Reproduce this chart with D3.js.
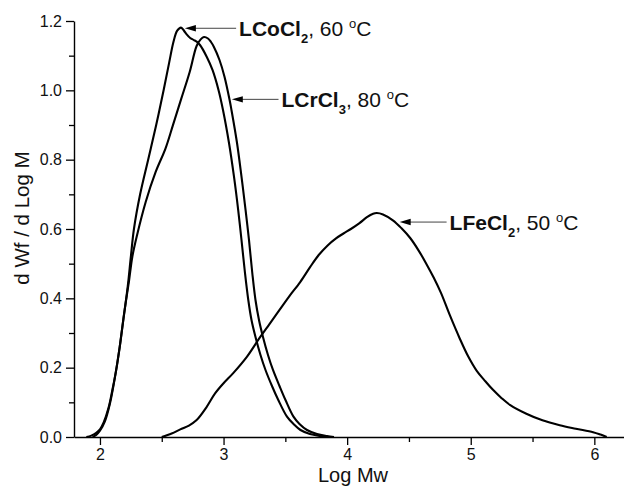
<!DOCTYPE html>
<html><head><meta charset="utf-8">
<script src="https://cdn.jsdelivr.net/npm/d3@7"></script>
<style>
body{margin:0;background:#fff}
svg{display:block;font-family:Arial,"Liberation Sans",Helvetica,sans-serif}
</style>
</head><body>
<svg id="chart" width="624" height="486"></svg>
<script>
// ---- Data (Log Mw, dWf/dLogM) ----
const coX = [1.89,1.93,1.97,2.00,2.03,2.07,2.10,2.13,2.16,2.19,2.225,2.25,2.275,2.325,2.39,2.455,2.515,2.56,2.595,2.625,2.656,2.68,2.70,2.73,2.76,2.7824,2.8094,2.8636,2.9106,2.9591,2.9955,3.0441,3.0845,3.1185,3.1452,3.1735,3.2002,3.2261,3.2585,3.2989,3.3394,3.3919,3.4429,3.5133,3.5659,3.6225,3.6994,3.7803,3.84];
const coY = [0,0.004,0.012,0.022,0.042,0.085,0.135,0.19,0.26,0.34,0.435,0.52,0.60,0.70,0.80,0.90,1.00,1.08,1.14,1.172,1.181,1.172,1.162,1.151,1.145,1.1403,1.1308,1.0970,1.0587,1.0010,0.9433,0.8481,0.7509,0.6548,0.5683,0.4731,0.3952,0.3375,0.2885,0.2365,0.1933,0.1471,0.1067,0.0586,0.0375,0.0202,0.0087,0.0029,0];

const crX = [1.94,1.97,2.00,2.04,2.08,2.12,2.16,2.195,2.235,2.262,2.30,2.37,2.45,2.53,2.59,2.658,2.726,2.782,2.815,2.8418,2.8741,2.8984,2.9211,2.9672,3.0077,3.049,3.064,3.109,3.1452,3.1783,3.2058,3.2325,3.2584,3.2867,3.3191,3.3595,3.40,3.4526,3.5011,3.5659,3.6144,3.6751,3.756,3.8369,3.8935];
const crY = [0,0.006,0.018,0.045,0.095,0.17,0.26,0.355,0.45,0.52,0.582,0.678,0.764,0.832,0.899,0.976,1.053,1.128,1.147,1.1538,1.1495,1.1394,1.1259,1.0875,1.0393,0.9721,0.9433,0.8481,0.7509,0.6548,0.5683,0.4731,0.3952,0.3375,0.2885,0.2365,0.1933,0.1471,0.1067,0.0586,0.0375,0.0202,0.0087,0.0029,0];

const feX = [2.50,2.58,2.65,2.72,2.78,2.86,2.93,3.00,3.08,3.19,3.29,3.37,3.45,3.53,3.62,3.70,3.77,3.84,3.91,3.97,4.03,4.10,4.16,4.21,4.24,4.29,4.37,4.44,4.51,4.58,4.64,4.70,4.76,4.83,4.91,4.98,5.05,5.12,5.18,5.25,5.32,5.45,5.58,5.72,5.85,5.99,6.05,6.10];
const feY = [0,0.01,0.022,0.033,0.048,0.085,0.125,0.155,0.185,0.232,0.285,0.325,0.365,0.405,0.447,0.49,0.525,0.552,0.573,0.587,0.600,0.617,0.634,0.644,0.646,0.642,0.625,0.602,0.574,0.537,0.50,0.46,0.415,0.352,0.285,0.232,0.19,0.16,0.136,0.112,0.092,0.067,0.048,0.034,0.024,0.014,0.007,0];

const xMajorTicks = [2,3,4,5,6];
const xMinorTicks = [2.5,3.5,4.5,5.5];
const yMajorTicks = [0,0.2,0.4,0.6,0.8,1.0,1.2];
const yMinorTicks = [0.1,0.3,0.5,0.7,0.9,1.1];

// annotation: label parts, arrow tip (data), text start (data x)
const labelNames = ["LCoCl", "LCrCl", "LFeCl"];
const labelSubs  = ["2", "3", "2"];
const labelTemps = [", 60 ", ", 80 ", ", 50 "];
const arrowTipX  = [2.687, 3.067, 4.425];
const arrowTipY  = [1.179, 0.974, 0.620];
const labelTextX = [3.126, 3.469, 4.829];

const xTitle = "Log Mw";
const yTitle = "d Wf / d Log M";

// ---- Chart ----
const svg = d3.select("#chart");
const x = d3.scaleLinear().domain([1.79, 6.24]).range([74, 624]);
const y = d3.scaleLinear().domain([0, 1.2]).range([437, 21]);

// axes
svg.append("g").attr("transform", `translate(0,${y(0)})`)
  .call(d3.axisBottom(x).tickValues(xMajorTicks).tickFormat(d3.format("d"))
        .tickSize(8).tickSizeOuter(0).tickPadding(4));
svg.append("g").attr("transform", `translate(0,${y(0)})`)
  .call(d3.axisBottom(x).tickValues(xMinorTicks).tickFormat("").tickSize(5).tickSizeOuter(0))
  .select(".domain").remove();
svg.append("g").attr("transform", `translate(${x(1.79)},0)`)
  .call(d3.axisLeft(y).tickValues(yMajorTicks).tickFormat(d3.format(".1f"))
        .tickSize(8).tickSizeOuter(0).tickPadding(4));
svg.append("g").attr("transform", `translate(${x(1.79)},0)`)
  .call(d3.axisLeft(y).tickValues(yMinorTicks).tickFormat("").tickSize(5).tickSizeOuter(0))
  .select(".domain").remove();

svg.selectAll(".domain").attr("stroke", "#000").attr("stroke-width", 1.4);
svg.selectAll(".tick line").attr("stroke", "#000").attr("stroke-width", 1.3);
svg.selectAll(".tick text").attr("font-size", 16).attr("fill", "#111")
  .attr("font-family", "Arial, 'Liberation Sans', sans-serif");

// titles
svg.append("text").attr("x", 353).attr("y", 481.5).attr("text-anchor", "middle")
  .attr("font-size", 20).attr("fill", "#111").text(xTitle);
svg.append("text").attr("transform", "translate(29,218) rotate(-90)")
  .attr("text-anchor", "middle").attr("font-size", 20.5).attr("fill", "#111").text(yTitle);

// curves
const line = d3.line().x(d => x(d[0])).y(d => y(d[1])).curve(d3.curveCatmullRom.alpha(0.5));
const series = [d3.zip(coX, coY), d3.zip(crX, crY), d3.zip(feX, feY)];
svg.append("g").selectAll("path").data(series).join("path")
  .attr("d", line).attr("fill", "none").attr("stroke", "#000")
  .attr("stroke-width", 2.1).attr("stroke-linejoin", "round");

// annotations
labelNames.forEach((nm, i) => {
  const tx = x(arrowTipX[i]), ty = y(arrowTipY[i]);
  const sx = x(labelTextX[i]);
  svg.append("line").attr("x1", sx - 3).attr("y1", ty).attr("x2", tx + 8).attr("y2", ty)
    .attr("stroke", "#444").attr("stroke-width", 1);
  svg.append("path")
    .attr("d", `M${tx},${ty} L${tx + 11},${ty - 3.2} L${tx + 11},${ty + 3.2} Z`)
    .attr("fill", "#000");
  const t = svg.append("text").attr("x", sx).attr("y", ty + 8)
    .attr("font-size", 21).attr("fill", "#111");
  t.append("tspan").attr("font-weight", "bold").text(nm);
  t.append("tspan").attr("font-weight", "bold").attr("font-size", 13).attr("dy", 7).text(labelSubs[i]);
  t.append("tspan").attr("dy", -7).text(labelTemps[i]);
  t.append("tspan").attr("font-size", 13).attr("dy", -8).text("o");
  t.append("tspan").attr("dy", 8).text("C");
});
</script>
</body></html>
